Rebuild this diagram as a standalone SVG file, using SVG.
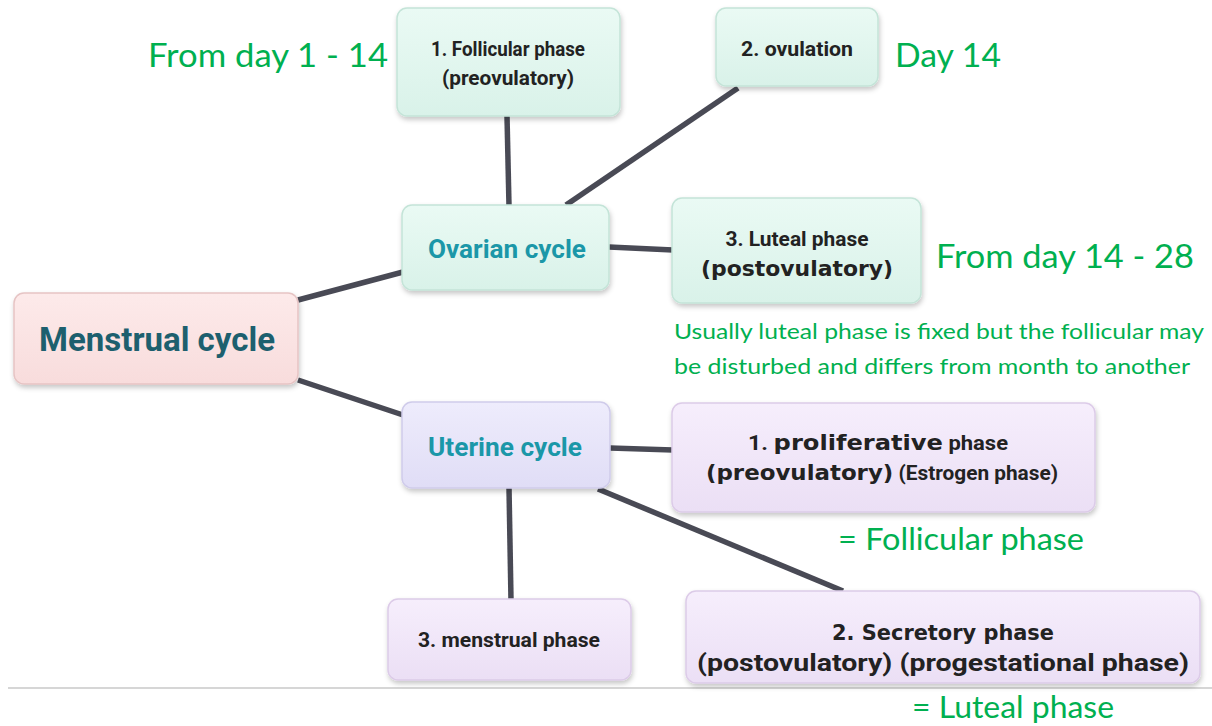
<svg xmlns="http://www.w3.org/2000/svg" width="1212" height="726" viewBox="0 0 1212 726">
<defs>
<filter id="sh" x="-10%" y="-10%" width="120%" height="130%">
<feDropShadow dx="1" dy="3" stdDeviation="2.5" flood-color="#000" flood-opacity="0.22"/>
</filter>
<linearGradient id="gPink" x1="0" y1="0" x2="0" y2="1"><stop offset="0" stop-color="#fdeaea"/><stop offset="1" stop-color="#f8dcdc"/></linearGradient>
<linearGradient id="gMint" x1="0" y1="0" x2="0" y2="1"><stop offset="0" stop-color="#eafaf4"/><stop offset="1" stop-color="#d9f2e9"/></linearGradient>
<linearGradient id="gLav" x1="0" y1="0" x2="0" y2="1"><stop offset="0" stop-color="#eeecfc"/><stop offset="1" stop-color="#e0ddf6"/></linearGradient>
<linearGradient id="gLil" x1="0" y1="0" x2="0" y2="1"><stop offset="0" stop-color="#f6eefc"/><stop offset="1" stop-color="#ebdff5"/></linearGradient>
</defs>
<style>
.box{filter:url(#sh);stroke-width:1.5}
.pink{fill:url(#gPink);stroke:#e6c4c4}
.mint{fill:url(#gMint);stroke:#c4e4d8}
.lav{fill:url(#gLav);stroke:#cfcbea}
.lil{fill:url(#gLil);stroke:#dccbe8}
.t{font-family:Roboto,"Liberation Sans",sans-serif;font-weight:bold;fill:#222;text-anchor:middle}
.main{font-family:Roboto,"Liberation Sans",sans-serif;font-weight:bold;text-anchor:middle}
.mono{font-family:"DejaVu Sans","Liberation Sans",sans-serif;font-weight:bold;fill:#222}
.g{font-family:Lato,"Open Sans",sans-serif;fill:#00b050}
.c{stroke:#494a55;stroke-width:5.5;stroke-linecap:butt;fill:none}
</style>
<line x1="8" y1="688" x2="1212" y2="688" stroke="#c8c8c8" stroke-width="1.5"/>
<g id="connectors">
<line class="c" x1="298" y1="300" x2="403" y2="272"/>
<line class="c" x1="298" y1="380" x2="403" y2="415"/>
<line class="c" x1="507" y1="116" x2="509" y2="206"/>
<line class="c" x1="566" y1="205" x2="738" y2="88" stroke-width="4.5"/>
<line class="c" x1="609" y1="247" x2="673" y2="250" stroke-width="6.5"/>
<line class="c" x1="610" y1="448" x2="673" y2="450" stroke-width="6.5"/>
<line class="c" x1="509" y1="488" x2="511" y2="600" stroke-width="4.5"/>
<line class="c" x1="598" y1="489" x2="843" y2="591" stroke-width="5"/>
</g>
<g id="menstrual-cycle">
<rect class="box pink" x="14" y="293" width="284" height="91" rx="10"/>
<text class="main" x="157" y="351" font-size="33" fill="#1d5f6e" textLength="236" lengthAdjust="spacingAndGlyphs">Menstrual cycle</text>
</g>
<g id="ovarian-cycle">
<rect class="box mint" x="402" y="205" width="207" height="85" rx="10"/>
<text class="main" x="507" y="258" font-size="26" fill="#1b97a8" textLength="158" lengthAdjust="spacingAndGlyphs">Ovarian cycle</text>
</g>
<g id="follicular-phase">
<rect class="box mint" x="397" y="8" width="223" height="108" rx="10"/>
<text class="t" x="508" y="56" font-size="21" textLength="154" lengthAdjust="spacingAndGlyphs">1. Follicular phase</text>
<text class="t" x="508" y="85" font-size="21" textLength="132" lengthAdjust="spacingAndGlyphs">(preovulatory)</text>
</g>
<g id="ovulation">
<rect class="box mint" x="716" y="8" width="162" height="78" rx="10"/>
<text class="t" x="797" y="56" font-size="21" textLength="112" lengthAdjust="spacingAndGlyphs">2. ovulation</text>
</g>
<g id="luteal-phase">
<rect class="box mint" x="672" y="198" width="249" height="105" rx="10"/>
<text class="t" x="797" y="246" font-size="21" textLength="143" lengthAdjust="spacingAndGlyphs">3. Luteal phase</text>
<text class="mono" x="797" y="276" font-size="21" text-anchor="middle" textLength="192" lengthAdjust="spacingAndGlyphs">(postovulatory)</text>
</g>
<g id="uterine-cycle">
<rect class="box lav" x="402" y="402" width="208" height="86" rx="10"/>
<text class="main" x="505" y="456" font-size="26" fill="#1b97a8" textLength="154" lengthAdjust="spacingAndGlyphs">Uterine cycle</text>
</g>
<g id="proliferative-phase">
<rect class="box lil" x="672" y="403" width="423" height="109" rx="10"/>
<text x="878" y="450" text-anchor="middle" textLength="260" lengthAdjust="spacingAndGlyphs"><tspan class="t" font-size="21">1. </tspan><tspan class="mono" font-size="22">proliferative</tspan><tspan class="t" font-size="20"> phase</tspan></text>
<text x="882" y="480" text-anchor="middle" textLength="352" lengthAdjust="spacingAndGlyphs"><tspan class="mono" font-size="22">(preovulatory)</tspan><tspan class="t" font-size="20"> (Estrogen phase)</tspan></text>
</g>
<g id="menstrual-phase">
<rect class="box lil" x="388" y="599" width="243" height="81" rx="10"/>
<text class="t" x="509" y="647" font-size="21" textLength="182" lengthAdjust="spacingAndGlyphs">3.  menstrual phase</text>
</g>
<g id="secretory-phase">
<rect class="box lil" x="686" y="591" width="514" height="92" rx="10"/>
<text class="mono" x="943" y="640" font-size="21" text-anchor="middle" textLength="222" lengthAdjust="spacingAndGlyphs">2. Secretory phase</text>
<text class="t" x="943" y="671" font-size="24" textLength="492" lengthAdjust="spacingAndGlyphs">(postovulatory)  (progestational  phase)</text>
</g>
<g id="notes">
<text class="g" x="148" y="67" font-size="32" textLength="240" lengthAdjust="spacingAndGlyphs">From day 1 - 14</text>
<text class="g" x="895" y="67" font-size="32" textLength="106" lengthAdjust="spacingAndGlyphs">Day 14</text>
<text class="g" x="936" y="268" font-size="32" textLength="258" lengthAdjust="spacingAndGlyphs">From day 14 - 28</text>
<text class="g" x="674" y="339" font-size="21" textLength="530" lengthAdjust="spacingAndGlyphs">Usually luteal phase is fixed but the follicular may</text>
<text class="g" x="674" y="374" font-size="21" textLength="516" lengthAdjust="spacingAndGlyphs">be disturbed and differs from month to another</text>
<text class="g" x="838" y="550" font-size="30" textLength="246" lengthAdjust="spacingAndGlyphs">= Follicular phase</text>
<text class="g" x="912" y="718" font-size="30" textLength="202" lengthAdjust="spacingAndGlyphs">= Luteal phase</text>
</g>
</svg>
